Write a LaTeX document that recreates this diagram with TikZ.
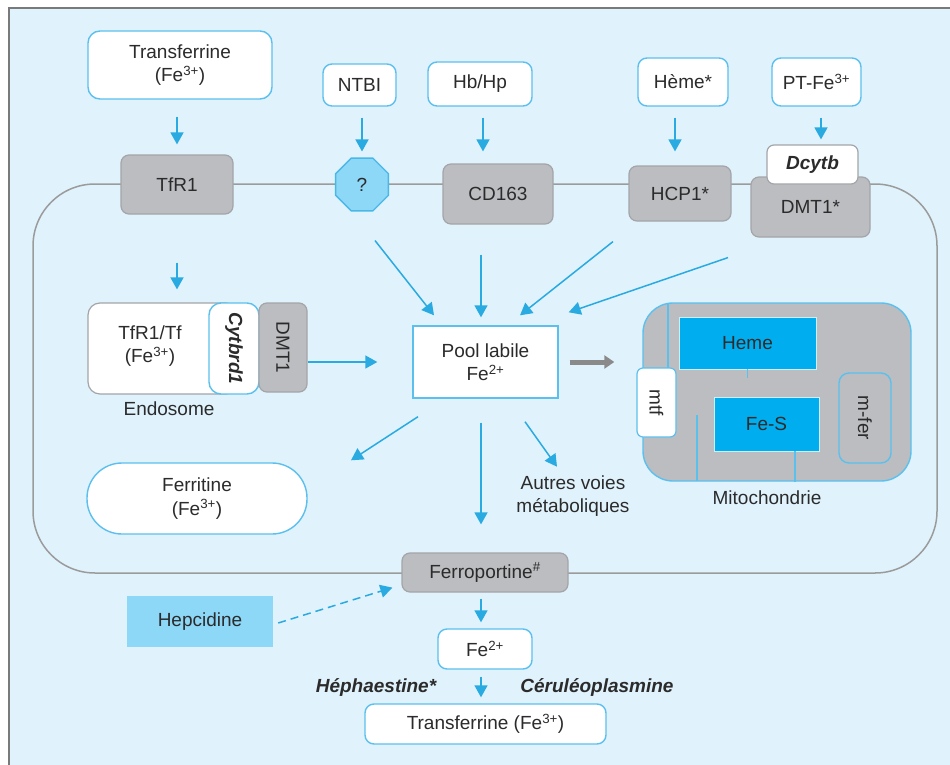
\documentclass[tikz,border=0pt]{standalone}
\usepackage{fontspec}
\setmainfont{Liberation Sans}
\usetikzlibrary{arrows.meta,shapes.geometric,calc}
\definecolor{bg}{HTML}{E0F2FC}
\definecolor{frameg}{HTML}{7A7A7A}
\definecolor{bl}{HTML}{29ABE2}
\definecolor{bbord}{HTML}{5BC0EE}
\definecolor{gfill}{HTML}{BCBDC0}
\definecolor{gbord}{HTML}{A4A5A8}
\definecolor{lb}{HTML}{8DD7F7}
\definecolor{cy}{HTML}{00AEEF}
\definecolor{txt}{HTML}{2B2B2B}
\definecolor{memb}{HTML}{9B9B9B}
\definecolor{garr}{HTML}{8A8A8A}
\begin{document}
\begin{tikzpicture}[x=1pt,y=-1pt,
  every node/.style={font=\fontsize{19}{23.5}\selectfont, text=txt, align=center, inner sep=0pt},
  sz/.style 2 args={minimum width=#1pt, minimum height=#2pt},
  wbox/.style={draw=bbord, fill=white, line width=1.4pt, rounded corners=9pt},
  gbox/.style={draw=gbord, fill=gfill, line width=1.2pt, rounded corners=8pt},
  cybox/.style={draw=white!80!cy, fill=cy, line width=0.8pt},
  arr/.style={draw=bl, line width=1.5pt, -{Triangle[length=12pt,width=13pt]}},
  grayarr/.style={draw=garr, line width=5pt, -{Triangle[length=10pt,width=13pt]}},
  dasharr/.style={draw=bl, line width=1.5pt, dash pattern=on 8pt off 5pt, -{Triangle[length=12pt,width=13pt]}},
  crista/.style={draw=bbord, line width=1.2pt},
  bi/.style={font=\fontsize{19}{23}\selectfont\bfseries\itshape}
]
\useasboundingbox (0,0) rectangle (950,765);
% background frame
\fill[bg] (9,8) rectangle (950,765);
\draw[frameg, line width=2pt] (9,765) -- (9,8) -- (950,8);
% cell membrane
\draw[memb, line width=1.5pt, rounded corners=62pt] (33,184) rectangle (937,573);

% top sources
\node[wbox, sz={184}{68}, rounded corners=12pt] (tf) at (180,65) {Transferrine\\(Fe\textsuperscript{3+})};
\node[wbox, sz={73}{42}] (ntbi) at (359.5,85) {NTBI};
\node[wbox, sz={104}{44}] (hbhp) at (480,84) {Hb/Hp};
\node[wbox, sz={90}{48}] (hemein) at (683,82) {Hème*};
\node[wbox, sz={89}{48}] (ptfe) at (816.5,82) {PT-Fe\textsuperscript{3+}};

% membrane proteins
\node[gbox, sz={112}{59}] (tfr1) at (177,184.5) {TfR1};
\node[draw=bl!85!white, fill=lb, line width=1.4pt, regular polygon, regular polygon sides=8, minimum size=57pt] (oct) at (362,184.5) {?};
\node[gbox, sz={110}{60}] (cd163) at (498,194) {CD163};
\node[gbox, sz={102}{55}] (hcp1) at (680,193.5) {HCP1*};
\node[gbox, sz={119}{60}] (dmt1) at (810.5,207) {\raisebox{-8pt}{DMT1*}};
\node[draw=gbord, fill=white, line width=1.2pt, rounded corners=7pt, sz={91}{39}, bi] (dcytb) at (812.5,164.5) {Dcytb};

% arrows into membrane
\draw[arr, shorten <=17pt, shorten >=10pt] (tf.south -| tfr1.north) -- (tfr1.north);
\draw[arr, shorten <=11pt, shorten >=6pt] (oct.north |- ntbi.south) -- (oct.north);
\draw[arr, shorten <=11pt, shorten >=12pt] ([xshift=3pt]hbhp.south) -- ([xshift=3pt]hbhp.south |- cd163.north);
\draw[arr, shorten <=11pt, shorten >=14pt] ([xshift=-8pt]hemein.south) -- ([xshift=-8pt]hemein.south |- hcp1.north);
\draw[arr, shorten <=11pt, shorten >=5pt] ([xshift=4.5pt]ptfe.south) -- ([xshift=4.5pt]ptfe.south |- dcytb.north);

% endosome
\node[draw=gbord, fill=white, line width=1.2pt, rounded corners=12pt, sz={150}{91}] (endo) at (163,348.5) {};
\node (endotxt) at (150,346) {TfR1/Tf\\(Fe\textsuperscript{3+})};
\node[wbox, rounded corners=12pt, rotate=-90, sz={91}{50}, bi] (cyt) at (234,348.5) {Cytbrd1};
\node[gbox, rotate=-90, sz={89}{48}] (edmt) at (283,347.5) {DMT1};
\node (endolab) at (169,409) {Endosome};
\draw[arr, shorten <=48pt, shorten >=13pt] (tfr1.south) -- (tfr1.south |- endo.north);

% pool
\node[draw=bbord, fill=white, line width=1.4pt, sz={145}{72}] (pool) at (485.5,362) {Pool labile\\Fe\textsuperscript{2+}};
\draw[arr, shorten <=25pt, shorten >=35pt] (edmt.east |- pool.west) -- (pool.west);

% incoming arrows
\draw[arr] ([shift={(13,29)}]oct.south) -- ([shift={(-51.5,-10)}]pool.north);
\draw[arr] ([shift={(-17,30)}]cd163.south) -- ([shift={(-4.5,-8)}]pool.north);
\draw[arr] ([shift={(-67,20)}]hcp1.south) -- ([shift={(34.5,-10)}]pool.north);
\draw[arr] ([shift={(-82.5,20)}]dmt1.south) -- ([shift={(10,-13)}]pool.north east);

% ferritine & others
\node[wbox, rounded corners=35pt, sz={220}{71}] (ferr) at (197,498.5) {Ferritine\\(Fe\textsuperscript{3+})};
\node (autres) at (573,496) {Autres voies\\métaboliques};
\draw[arr] ([shift={(-67.5,18)}]pool.south) -- ([shift={(154,-2)}]ferr.north);
\draw[arr] ([shift={(39.5,23)}]pool.south) -- ([shift={(71.5,68)}]pool.south);

% mitochondria
\node[draw=bbord, fill=gfill, line width=1.4pt, rounded corners=30pt, sz={268}{178}] (mito) at (777,392) {};
\draw[crista] (668,303) -- (668,368);
\draw[crista] (697,415) -- (697,481);
\node[cybox, sz={137}{52}] (heme) at (747.5,343) {Heme};
\node[cybox, sz={105}{54}] (fes) at (766.5,424) {Fe-S};
\draw[crista] (heme.south) -- ++(0,9);
\draw[crista] ([xshift=28.5pt]fes.south) -- ([xshift=28.5pt]fes.south |- mito.south);
\node[draw=bbord, fill=white, line width=1.2pt, rounded corners=6pt, rotate=-90, sz={69}{39}] (mtf) at (656.5,402.5) {mtf};
\node[draw=bbord, fill=gfill, line width=1.4pt, rounded corners=10pt, rotate=-90, sz={90}{52}] (mfer) at (865,418) {m-fer};
\node (mitolab) at (767,498) {Mitochondrie};
\draw[grayarr, shorten <=11pt, shorten >=28pt] (pool.east) -- (pool.east -| mito.west);

% export
\node[gbox, sz={166}{39}] (ferro) at (485,572.5) {Ferroportine\textsuperscript{\#}};
\draw[arr, shorten <=24pt, shorten >=28pt] ([xshift=-4.5pt]pool.south) -- ([xshift=-4.5pt]pool.south |- ferro.north);
\node[fill=lb, sz={146}{51}] (hep) at (200,621.5) {Hepcidine};
\node[wbox, sz={94}{40}] (fe2) at (485,649) {Fe\textsuperscript{2+}};
\node[wbox, sz={241}{40}] (tf2) at (485.5,724) {Transferrine (Fe\textsuperscript{3+})};
\draw[dasharr] ([shift={(5,1.5)}]hep.east) -- ([shift={(-9,-5)}]ferro.south west);
\draw[arr, shorten <=6pt, shorten >=6pt] ([xshift=-4pt]ferro.south) -- ([xshift=-4pt]ferro.south |- fe2.north);
\draw[arr, shorten <=7pt, shorten >=6pt] ([xshift=-4pt]fe2.south) -- ([xshift=-4pt]fe2.south |- tf2.north);
\node[bi] (heph) at (376,687) {Héphaestine*};
\node[bi] (cerul) at (597,687) {Céruléoplasmine};
\end{tikzpicture}
\end{document}
